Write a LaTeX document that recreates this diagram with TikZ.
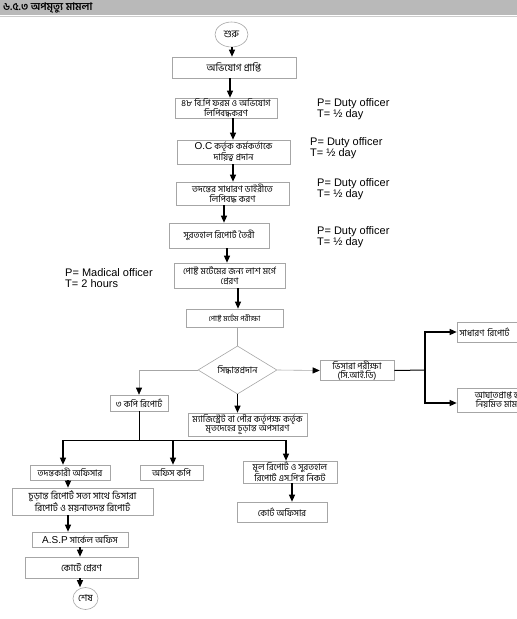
\documentclass[tikz,border=0pt]{standalone}
\usepackage{fontspec}
\setmainfont{Liberation Sans}
\newfontfamily\bn[Script=Bengali]{Hind Siliguri}
\usetikzlibrary{arrows.meta,shapes.geometric}
\begin{document}
\begin{tikzpicture}[x=1pt,y=-1pt,
  box/.style={draw=gray!70, line width=0.6pt, inner sep=0pt, align=center, font=\bn\fontsize{9}{9.5}\selectfont},
  arr/.style={draw=black, line width=1.2pt, -{Triangle[length=7pt,width=6pt]}},
  tarr/.style={draw=gray!70, line width=0.6pt, -{Triangle[length=7pt,width=6pt,color=black]}},
  thinline/.style={draw=gray!70, line width=0.6pt},
  blk/.style={draw=black, line width=1pt},
  lab/.style={align=left, font=\fontsize{11}{11}\selectfont, inner sep=0pt, anchor=north west}]
\useasboundingbox (0,0) rectangle (517,619);
\clip (0,0) rectangle (517,619);
% title bar
\fill[gray!55] (0,0) rectangle (517,15);
\draw[gray!40, line width=0.5pt] (0,16) -- (517,16);
\node[anchor=west, inner sep=0pt, font=\bn\bfseries\fontsize{10.5}{11}\selectfont] (title) at (3,8) {৬.৫.৩ অপমৃত্যু মামলা};
% nodes
\node[ellipse, draw=gray!70, line width=0.6pt, inner sep=0pt, minimum width=33pt, minimum height=25pt, font=\bn\fontsize{10}{10}\selectfont] (start) at (231.5,34.5) {শুরু};
\node[box, minimum width=124pt, minimum height=21pt, font=\bn\fontsize{10}{10}\selectfont] (b1) at (234,67.5) {অভিযোগ প্রাপ্তি};
\node[box, minimum width=102pt, minimum height=20pt] (b2) at (226,108) {৪৮ বি.পি ফরম ও অভিযোগ\\লিপিবদ্ধকরণ};
\node[box, minimum width=113pt, minimum height=24pt] (b3) at (233.5,152) {{\fontsize{10}{9.5}\fontspec{Liberation Sans}O.C} কর্তৃক কর্মকর্তাকে\\দায়িত্ব প্রদান};
\node[box, minimum width=113pt, minimum height=23pt] (b4) at (232.5,193.5) {তদন্তের সাধারণ ডাইরীতে\\লিপিবদ্ধ করণ};
\node[box, minimum width=100pt, minimum height=25pt] (b5) at (219,235.5) {সুরতহাল রিপোর্ট তৈরী};
\node[box, minimum width=111pt, minimum height=25pt] (b6) at (229.5,275.5) {পোষ্ট মর্টেমের জন্য লাশ মর্গে\\প্রেরণ};
\node[box, minimum width=97pt, minimum height=18pt, font=\bn\fontsize{7.5}{8}\selectfont] (b7) at (234.5,318) {পোষ্ট মর্টেম পরীক্ষা};
\node[diamond, draw=gray!70, line width=0.6pt, inner sep=0pt, minimum width=79pt, minimum height=44pt, font=\bn\fontsize{9}{9}\selectfont] (dia) at (237.5,370) {সিদ্ধান্তপ্রদান};
\node[box, minimum width=74pt, minimum height=19pt] (visc) at (357,370.5) {ভিসারা পরীক্ষা\\(সি.আই.ডি)};
\node[box, minimum width=85pt, minimum height=20pt, text width=80pt, align=left] (gen) at (499.5,332) {সাধারণ রিপোর্ট};
\node[box, minimum width=88pt, minimum height=24pt] (inj) at (501,400) {আঘাতপ্রাপ্ত হলে\\নিয়মিত মামলা};
\node[box, minimum width=58pt, minimum height=16pt] (copy3) at (139,403) {৩ কপি রিপোর্ট};
\node[box, minimum width=119pt, minimum height=23pt] (mag) at (247.5,424.5) {ম্যাজিস্ট্রেট বা পৌর কর্তৃপক্ষ কর্তৃক\\মৃতদেহের চূড়ান্ত অপসারণ};
\node[box, minimum width=80pt, minimum height=15pt] (io) at (70,472.5) {তদন্তকারী অফিসার};
\node[box, minimum width=63pt, minimum height=15pt] (oc) at (171.5,472.5) {অফিস কপি};
\node[box, minimum width=94pt, minimum height=22pt] (orig) at (290,472) {মূল রিপোর্ট ও সুরতহাল\\রিপোর্ট এস.পি'র নিকট};
\node[box, minimum width=90pt, minimum height=20pt] (court) at (282,512) {কোর্ট অফিসার};
\node[box, minimum width=141pt, minimum height=27pt, font=\bn\fontsize{9.5}{11}\selectfont] (final) at (82.5,501.5) {চূড়ান্ত রিপোর্ট সত্য সাথে ভিসারা\\রিপোর্ট ও ময়নাতদন্ত রিপোর্ট};
\node[box, minimum width=96pt, minimum height=15pt] (asp) at (80,539.5) {{\fontsize{10}{9.5}\fontspec{Liberation Sans}A.S.P} সার্কেল অফিস};
\node[box, minimum width=113pt, minimum height=21pt, font=\bn\fontsize{9.5}{10}\selectfont] (cts) at (81.5,567.5) {কোর্টে প্রেরণ};
\node[ellipse, draw=gray!70, line width=0.6pt, inner sep=0pt, minimum width=25pt, minimum height=22pt, font=\bn\fontsize{9.5}{10}\selectfont] (end) at (85.5,598.5) {শেষ};
% labels
\node[lab] (l1) at (317,98) {P= Duty officer\\T= ½ day};
\node[lab] (l2) at (310,137) {P= Duty officer\\T= ½ day};
\node[lab] (l3) at (317,178) {P= Duty officer\\T= ½ day};
\node[lab] (l4) at (317,226) {P= Duty officer\\T= ½ day};
\node[lab] (l5) at (65,268) {P= Madical officer\\T= 2 hours};
% connectors
\draw[arr] (start.south -| 232,0) -- (b1.north -| 232,0);
\draw[arr] (b1.south -| 230,0) -- (b2.north -| 230,0);
\draw[arr] (b2.south -| 233,0) -- (b3.north -| 233,0);
\draw[arr] (b3.south -| 233,0) -- (b4.north -| 233,0);
\draw[arr] (b4.south -| 224,0) -- (b5.north -| 224,0);
\draw[arr] (b5.south -| 227,0) -- (b6.north -| 227,0);
\draw[arr] (b6.south -| 238,0) -- (b7.north -| 238,0);
\draw[thinline] (b7.south -| dia.north) -- (dia.north);
\draw[tarr] (dia.west) -| (copy3.north);
\draw[arr] (dia.south) -- (mag.north -| dia.south);
\draw[tarr] (dia.east) -- (visc.west);
\coordinate (j) at (425,370);
\draw[blk] (visc.east) -- (j);
\draw[arr] (j) |- (gen.west);
\draw[arr] (j) |- (inj.west |- 0,403);
\coordinate (d1) at (63,440);
\coordinate (d2) at (173,440);
\coordinate (d3) at (286,440);
\draw[blk] (copy3.south) -- (copy3.south |- d1);
\draw[blk] (d1) -- (d3);
\draw[arr] (d1) -- (io.north -| d1);
\draw[arr] (d2) -- (oc.north -| d2);
\draw[arr] (d3) -- (orig.north -| d3);
\draw[arr] (io.south -| 68,0) -- (final.north -| 68,0);
\draw[arr] (final.south -| 68,0) -- (asp.north -| 68,0);
\draw[arr] (asp.south -| 80,0) -- (cts.north -| 80,0);
\draw[arr] (cts.south -| 80,0) -- (end.north -| 80,0);
\draw[arr] (orig.south -| 292,0) -- (court.north -| 292,0);
\end{tikzpicture}
\end{document}
